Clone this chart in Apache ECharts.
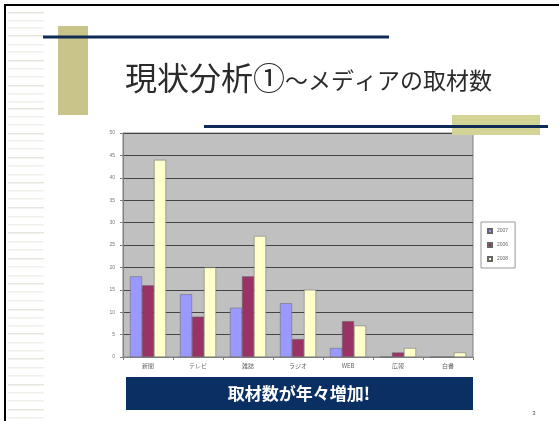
<!DOCTYPE html>
<html><head><meta charset="utf-8">
<script src="https://cdn.jsdelivr.net/npm/echarts@6/dist/echarts.min.js"></script>
<style>html,body{margin:0;padding:0;background:#fff;}#c{width:559px;height:421px;}</style>
</head><body><div id="c"></div>
<script>
var categories = ['新聞','テレビ','雑誌','ラジオ','WEB','広報','白書'];
var seriesNames = ['2007','2006','2008'];
var values2007 = [18,14,11,12,2,0,0];
var values2006 = [16,9,18,4,8,1,0];
var values2008 = [44,20,27,15,7,2,1];
var yTicks = {min:0,max:50,interval:5};

var chart = echarts.init(document.getElementById('c'), null, {renderer:'canvas'});
var stripes = [];
var ys = [12,20,27,35,44,51,60,68,76,85,93,101,108,116,124,133,140,148,157,165,174,182,190,198,207,216,224,232,241,249,258,266,275,283,291,300,309,317,325,333,342,350,358,367,375,384,392,400,409,417];
ys.forEach(function(y,i){
  stripes.push({type:'rect',shape:{x:8,y:y,width:36,height:1.5},style:{fill: i%3===0?'#e6e6de':'#f0f0ea'},z:0});
});
var graphics = stripes.concat([
  {type:'rect',shape:{x:4,y:4,width:2,height:417},style:{fill:'#000'}},
  {type:'rect',shape:{x:4,y:4,width:555,height:2},style:{fill:'#000'}},
  {type:'rect',shape:{x:58,y:26,width:30,height:89},style:{fill:'#c8c48a'}},
  {type:'rect',shape:{x:43,y:35.5,width:346,height:3},style:{fill:'#0f2a55'},z:2},
  {type:'rect',shape:{x:452,y:115,width:88,height:20},style:{fill:'#d4d496'},z:1},
  {type:'rect',shape:{x:204,y:125,width:344,height:3},style:{fill:'#0f2a55'},z:2},
  {type:'text',left:125,top:62,style:{
    text:'{a|現状分析①}{b|～メディアの取材数}',
    rich:{a:{fontSize:32,fontFamily:'Noto Sans CJK JP',fill:'#2b2b2b',verticalAlign:'bottom'},
          b:{fontSize:23,fontFamily:'Noto Sans CJK JP',fill:'#2b2b2b',verticalAlign:'bottom',padding:[0,0,2,0]}}
  }},
  {type:'rect',shape:{x:126,y:377,width:347,height:33},style:{fill:'#0a2f63'},z:2},
  {type:'text',x:299,y:393.5,style:{text:'取材数が年々増加!',fontSize:17,fontWeight:'bold',fontFamily:'Noto Sans CJK JP',fill:'#fff',textAlign:'center',textVerticalAlign:'middle'},z:3},
  {type:'text',x:534,y:413,style:{text:'3',fontSize:6,fill:'#555',textAlign:'center',textVerticalAlign:'middle'}}
]);

var colors = ['#9999ff','#993366','#ffffcc'];
var data = [values2007, values2006, values2008];
chart.setOption({
  animation:false,
  graphic:graphics,
  grid:{left:123,right:86,top:133,bottom:64,show:true,backgroundColor:'#c0c0c0',borderColor:'#808080',borderWidth:1},
  legend:{orient:'vertical',left:481,top:222,data:seriesNames,itemWidth:4,itemHeight:4,itemGap:8,
    padding:[6,7,6,6],backgroundColor:'#fff',borderColor:'#999',borderWidth:1,
    textStyle:{fontSize:5,color:'#666',fontFamily:'Liberation Sans'},icon:'rect'},
  xAxis:{type:'category',data:categories,
    axisLine:{lineStyle:{color:'#808080'}},axisTick:{show:true,alignWithLabel:false,lineStyle:{color:'#808080'},length:3},
    axisLabel:{fontSize:6,color:'#666',margin:6,fontFamily:'Noto Sans CJK JP'}},
  yAxis:{type:'value',min:yTicks.min,max:yTicks.max,interval:yTicks.interval,
    axisLine:{show:true,lineStyle:{color:'#808080'}},axisTick:{show:true,length:3,lineStyle:{color:'#808080'}},
    axisLabel:{fontSize:5,color:'#777',margin:8,fontFamily:'Liberation Sans'},
    splitLine:{lineStyle:{color:'#444',width:1}}},
  series:seriesNames.map(function(n,i){
    return {name:n,type:'bar',data:data[i],barGap:'0%',barCategoryGap:'28%',
      itemStyle:{color:colors[i],borderColor:'#666',borderWidth:0.5}};
  })
});
</script></body></html>
